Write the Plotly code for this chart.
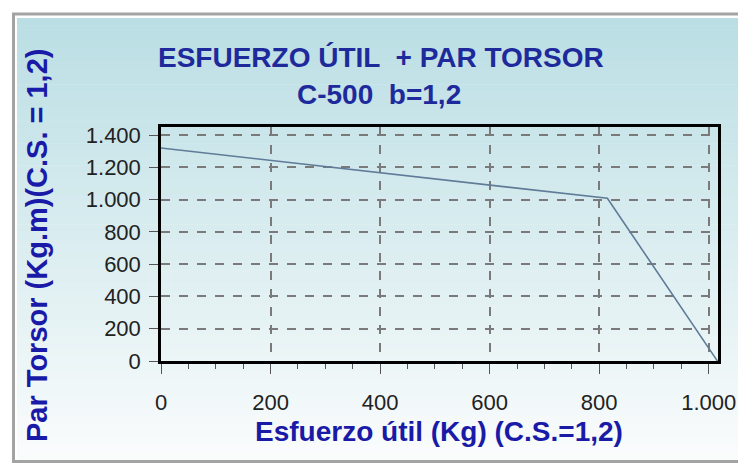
import plotly.graph_objects as go

# ---- data ----
esfuerzo_kg = [0, 815, 1016]
par_torsor = [1320, 1008, 0]
x_ticks = [0, 200, 400, 600, 800, 1000]
x_ticklabels = ["0", "200", "400", "600", "800", "1.000"]
y_ticks = [0, 200, 400, 600, 800, 1000, 1200, 1400]
y_ticklabels = ["0", "200", "400", "600", "800", "1.000", "1.200", "1.400"]

W, H = 738, 471
# plot area in page pixels
L, R, T, B = 161, 718, 127, 361


def px(x):
    return (x - L) / (R - L)


def py(y):
    return (B - y) / (B - T)


fig = go.Figure()
fig.add_trace(go.Scatter(x=esfuerzo_kg, y=par_torsor, mode="lines",
                         line=dict(color="#5f7b98", width=1.6),
                         cliponaxis=False, hoverinfo="skip"))

shapes = []
# gradient background strips
top, bot = 18, 460
n = 60
c0 = (186, 222, 228)
c1 = (250, 252, 252)
for i in range(n):
    y0 = top + (bot - top) * i / n
    y1 = top + (bot - top) * (i + 1) / n + 0.5
    t = i / (n - 1)
    c = tuple(round(c0[k] + (c1[k] - c0[k]) * t) for k in range(3))
    shapes.append(dict(type="rect", xref="paper", yref="paper", layer="below",
                       x0=px(17), x1=px(760), y0=py(y0), y1=py(y1),
                       line=dict(width=0), fillcolor="rgb(%d,%d,%d)" % c))
# outer gray frame
shapes.append(dict(type="rect", xref="paper", yref="paper", layer="below",
                   x0=px(13.5), x1=px(770), y0=py(14), y1=py(461.5),
                   line=dict(color="#a3a3a3", width=3), fillcolor="rgba(0,0,0,0)"))

title_font = dict(family="Liberation Sans, Arial", size=28, color="#1e2a9c")
axis_title_font = dict(family="Liberation Sans, Arial", size=28, color="#1a1aa8")
annotations = [
    dict(text="<b>ESFUERZO ÚTIL  + PAR TORSOR</b>", x=px(381), y=py(58), xref="paper", yref="paper",
         showarrow=False, font=title_font, xanchor="center", yanchor="middle"),
    dict(text="<b>C-500  b=1,2</b>", x=px(379), y=py(94), xref="paper", yref="paper",
         showarrow=False, font=title_font, xanchor="center", yanchor="middle"),
    dict(text="<b>Esfuerzo útil (Kg) (C.S.=1,2)</b>", x=px(439), y=py(431), xref="paper", yref="paper",
         showarrow=False, font=axis_title_font, xanchor="center", yanchor="middle"),
    dict(text="<b>Par Torsor (Kg.m)(C.S. = 1,2)</b>", x=px(37), y=py(246), xref="paper", yref="paper",
         showarrow=False, textangle=-90, font=dict(axis_title_font, size=29),
         xanchor="center", yanchor="middle"),
]

fig.update_layout(
    width=W, height=H,
    margin=dict(l=L, r=W - R, t=T, b=H - B, autoexpand=False),
    paper_bgcolor="white", plot_bgcolor="rgba(0,0,0,0)",
    showlegend=False,
    shapes=shapes, annotations=annotations,
    xaxis=dict(range=[0, 1017], tickvals=x_ticks, ticktext=x_ticklabels,
               automargin=False,
               showgrid=True, gridcolor="#7a7a7a", gridwidth=1.5, griddash="dash",
               zeroline=False, showline=True, linecolor="black", linewidth=2.5, mirror=True,
               ticks="outside", ticklen=10, tickcolor="#555", tickwidth=1.2,
               ticklabelstandoff=10,
               minor=dict(dtick=50, tick0=0, ticks="outside", ticklen=5, tickcolor="#555", showgrid=False),
               tickfont=dict(family="Liberation Sans, Arial", size=22, color="#222222"),
               fixedrange=True),
    yaxis=dict(range=[0, 1450], tickvals=y_ticks, ticktext=y_ticklabels,
               automargin=False,
               showgrid=True, gridcolor="#7a7a7a", gridwidth=1.5, griddash="dash",
               zeroline=False, showline=True, linecolor="black", linewidth=2.5, mirror=True,
               ticks="outside", ticklen=9, tickcolor="#555", tickwidth=1.2,
               ticklabelstandoff=4,
               tickfont=dict(family="Liberation Sans, Arial", size=22, color="#222222"),
               fixedrange=True),
)

fig.write_html("out.html", config={"displayModeBar": False},
               post_script="document.body.style.margin='0';")
